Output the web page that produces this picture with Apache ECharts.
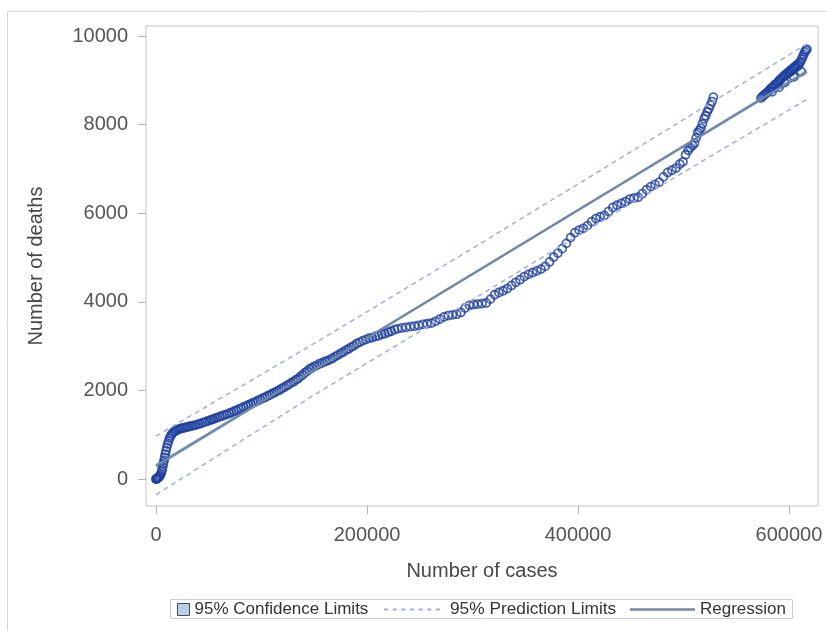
<!DOCTYPE html>
<html><head><meta charset="utf-8">
<script src="https://cdn.jsdelivr.net/npm/echarts@6/dist/echarts.min.js"></script>
<style>html,body{margin:0;padding:0;background:#fff}#c{width:827px;height:631px}</style>
</head><body><div id="c"></div>
<script>
const cases = [
0,200,500,900,1500,2200,3000,3800,4500,5200,5800,6400,7000,7600,8200,8800,9500,10200,11000,11900,12900,14000,15200,16500,18000,19600,21200,22800,
24500,26300,28200,30100,32000,34000,36000,37900,40000,42100,44200,46400,48500,50700,52500,54300,56300,58400,60600,62800,65000,67200,69500,71600,73800,76000,78300,80600,82900,85300,87500,89800,92100,94300,96600,98800,101100,103300,105500,107800,110100,112300,114600,116900,119100,121300,123600,125800,128100,130400,132700,134800,136900,139000,141100,143200,145300,
147500,150000,152500,155000,157500,160000,162500,165000,167500,170000,172500,175000,177500,180000,182500,185000,187500,190000,193000,196000,199000,202000,205000,208000,211000,214000,217000,220000,223000,226000,
229000,233000,237000,241000,245000,249000,253000,257000,261000,265000,269000,273000,277000,281000,285000,289000,293000,297000,301000,305000,309000,313000,317000,321000,325000,329000,333000,337000,341000,345000,349000,353000,357000,361000,365000,369000,373000,377000,381000,385000,389000,393000,397000,401000,405000,409000,413000,417000,421000,425000,429000,433000,437000,441000,445000,449000,453000,457000,461000,465000,469000,473000,477000,481000,485000,489000,493000,
496500,499500,502000,504500,506500,508500,510500,512000,513500,515000,516500,518000,519500,521000,522500,524000,525500,527000,528300,
573500,575000,576500,578000,579500,581000,582000,583500,584000,585000,586000,587500,589000,590000,590500,591500,592500,594000,595000,596000,596500,597500,599000,600000,601000,602000,603000,604000,604500,605000,606000,607000,608000,609000,610000,611000,611500,612000,613000,614000,615000,616000,617000
];
const deaths = [
0,2,6,12,22,35,52,75,110,160,215,280,350,420,490,560,640,715,790,860,925,975,1020,1055,1080,1100,1118,1135,
1148,1152,1169,1174,1191,1196,1212,1217,1240,1249,1274,1284,1307,1319,1342,1349,1374,1386,1411,1423,1450,1460,1486,1501,1531,1546,1577,1594,1626,1645,1675,1693,1726,1742,1774,1792,1825,1842,1876,1895,1930,1949,1985,2005,2044,2067,2107,2131,2172,2197,2239,2268,2317,2351,2400,2432,2480,
2508,2545,2566,2604,2622,2654,2668,2699,2727,2768,2797,2838,2866,2909,2936,2979,3006,3054,3086,3124,3146,3179,3192,3219,3236,3266,3281,3314,3336,3373,
3390,3410,3425,3440,3450,3468,3490,3505,3520,3560,3610,3660,3690,3705,3720,3760,3860,3920,3940,3950,3960,3975,4060,4160,4210,4250,4300,4370,4440,4500,4570,4620,4660,4700,4740,4800,4900,5010,5100,5200,5320,5450,5560,5620,5660,5720,5810,5880,5920,5950,6040,6130,6180,6220,6260,6320,6340,6360,6440,6530,6600,6650,6700,6820,6920,6970,7020,
7110,7160,7320,7420,7480,7530,7580,7700,7820,7870,7920,8020,8130,8200,8290,8360,8440,8520,8620,
8600,8640,8670,8700,8730,8760,8800,8830,8740,8850,8890,8910,8940,8980,8840,9000,9040,9060,9100,8950,9110,9150,9160,9200,9180,9240,9220,9280,9080,9260,9320,9300,9360,9330,9400,9420,9200,9480,9530,9590,9640,9680,9700
];
const xTicks = [0, 200000, 400000, 600000];
const yTicks = [0, 2000, 4000, 6000, 8000, 10000];
const regX = [0, 617000];
const regY = [300, 9200];
const bandX = [0, 150000, 308500, 460000, 617000];
const predUpper = [970, 3060, 5330, 7530, 9820];
const predLower = [-355, 1900, 4170, 6360, 8570];
const clmUpper = [350, 2494, 4775, 6966, 9250];
const clmLower = [250, 2434, 4725, 6906, 9150];

const FONT = "'Liberation Sans', Arial, sans-serif";
const MARK = '#1d3f9f';
const PRED = '#a3abe8';
const REG = '#6f88a9';
const CLM = '#b9cfe8';
const chart = echarts.init(document.getElementById('c'), null, {renderer: 'canvas'});

const axisCommon = {
  type: 'value',
  nameLocation: 'middle',
  nameTextStyle: {fontFamily: FONT, fontSize: 20, color: '#474747'},
  axisLine: {show: false, onZero: false},
  splitLine: {show: false},
};

// dashed legend icon: 7 dashes across 56 px, 2 px tall
let dashPath = 'path://';
for (let k = 0; k < 7; k++) { const x0 = k * 8.667; dashPath += 'M' + x0.toFixed(2) + ',0h4v2h-4z'; }

const legendText = {fontFamily: FONT, fontSize: 17, color: '#333333'};

const option = {
  animation: false,
  backgroundColor: '#ffffff',
  grid: {left: 146, top: 26, width: 672, height: 480, show: true, borderColor: '#c4c4c4', borderWidth: 1, backgroundColor: 'transparent', containLabel: false},
  xAxis: Object.assign({}, axisCommon, {
    min: -9500, max: 627500,
    name: 'Number of cases', nameGap: 55,
    axisTick: {show: true, length: 8, customValues: xTicks, lineStyle: {color: '#b4b4b4'}},
    axisLabel: {customValues: xTicks, margin: 19, fontFamily: FONT, fontSize: 20, color: '#555555', formatter: v => String(v)}
  }),
  yAxis: Object.assign({}, axisCommon, {
    min: -609, max: 10226,
    name: 'Number of deaths', nameGap: 100,
    axisTick: {show: true, length: 8, customValues: yTicks, lineStyle: {color: '#b4b4b4'}},
    axisLabel: {customValues: yTicks, margin: 18, fontFamily: FONT, fontSize: 20, color: '#555555', formatter: v => String(v)}
  }),
  legend: [
    {left: 177, top: 601, itemWidth: 12, itemHeight: 12, selectedMode: false, padding: 0, textStyle: legendText,
     data: [{name: '95% Confidence Limits', icon: 'rect', itemStyle: {color: CLM, borderColor: '#3f4d6b', borderWidth: 1}}]},
    {left: 384, top: 601, itemWidth: 56, itemHeight: 2, selectedMode: false, padding: 0,
     textStyle: Object.assign({}, legendText, {fontSize: 17.3, padding: [0, 0, 0, 5]}),
     data: [{name: '95% Prediction Limits', icon: dashPath, itemStyle: {color: PRED, borderWidth: 0}}]},
    {left: 630, top: 601, itemWidth: 65, itemHeight: 2.5, selectedMode: false, padding: 0, textStyle: legendText,
     data: [{name: 'Regression', icon: 'path://M0,0h65v2.5h-65z', itemStyle: {color: REG, borderWidth: 0}}]}
  ],
  graphic: [
    {type: 'rect', silent: true, z: -10, shape: {x: 7.5, y: 11.5, width: 900, height: 700}, style: {fill: 'none', stroke: '#d6d6d6', lineWidth: 1}},
    {type: 'rect', silent: true, shape: {x: 170.5, y: 599.5, width: 622, height: 19}, style: {fill: 'none', stroke: '#cccccc', lineWidth: 1}}
  ],
  series: [
    {
      type: 'custom', name: '95% Confidence Limits', coordinateSystem: 'cartesian2d', silent: true, z: 1,
      data: [[0, 0]],
      renderItem: function (params, api) {
        const pts = [];
        for (let i = 0; i < bandX.length; i++) pts.push(api.coord([bandX[i], clmUpper[i]]));
        for (let i = bandX.length - 1; i >= 0; i--) pts.push(api.coord([bandX[i], clmLower[i]]));
        return {type: 'polygon', shape: {points: pts}, style: {fill: CLM, stroke: null}};
      },
      itemStyle: {color: CLM}
    },
    {
      type: 'scatter', name: 'Observed', z: 2, silent: true,
      data: cases.map((c, i) => [c, deaths[i]]),
      symbol: 'circle', symbolSize: 8,
      itemStyle: {color: 'rgba(0,0,0,0)', borderColor: MARK, borderWidth: 1.8}
    },
    {
      type: 'line', name: '95% Prediction Limits', z: 3, silent: true, symbol: 'none', color: PRED,
      data: bandX.map((x, i) => [x, predUpper[i]]),
      lineStyle: {color: PRED, width: 1.5, type: [5, 4]}
    },
    {
      type: 'line', name: '95% Prediction Limits', z: 3, silent: true, symbol: 'none', color: PRED,
      data: bandX.map((x, i) => [x, predLower[i]]),
      lineStyle: {color: PRED, width: 1.5, type: [5, 4]}
    },
    {
      type: 'line', name: 'Regression', z: 4, silent: true, symbol: 'none', color: REG,
      data: regX.map((x, i) => [x, regY[i]]),
      lineStyle: {color: REG, width: 2.5}
    }
  ]
};
chart.setOption(option);
</script>
</body></html>
